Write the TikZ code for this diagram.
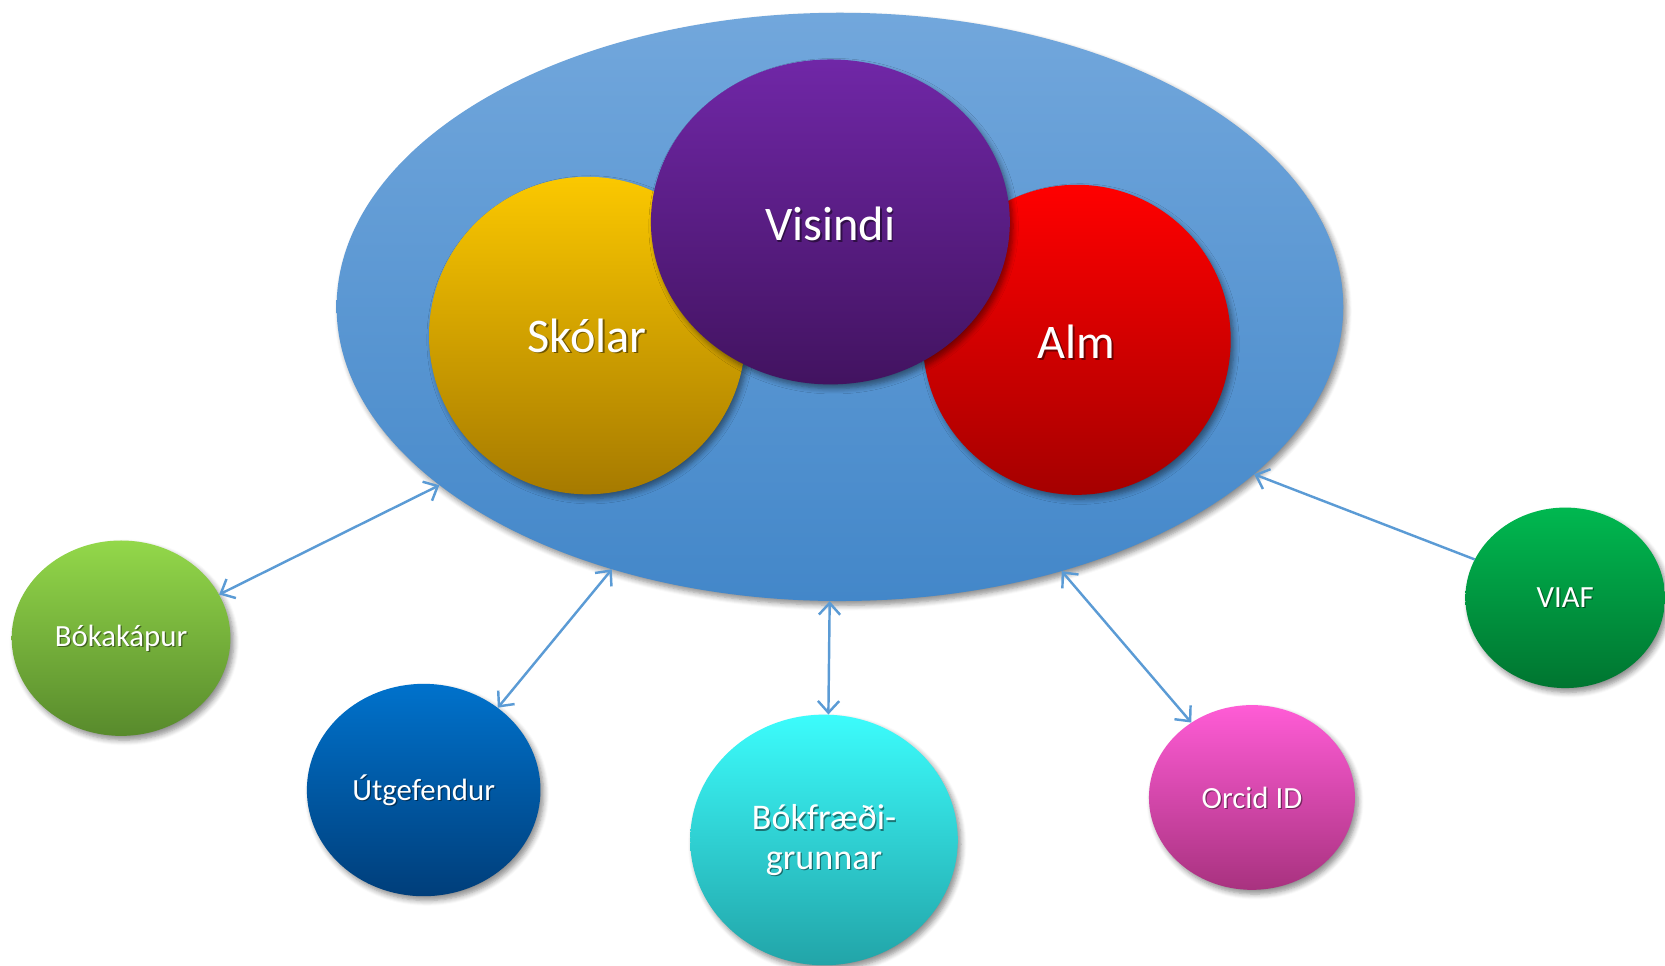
\documentclass[tikz,border=0pt]{standalone}
\usepackage{fontspec}
\setmainfont{Carlito}
\usetikzlibrary{shapes.geometric,arrows.meta,shadows.blur}
\definecolor{bigtop}{HTML}{72A7DC}
\definecolor{bigbot}{HTML}{4387C9}
\definecolor{conn}{HTML}{5B9BD5}
\definecolor{skotop}{HTML}{FBC800}
\definecolor{skobot}{HTML}{A67A00}
\definecolor{almtop}{HTML}{FF0000}
\definecolor{almbot}{HTML}{A50000}
\definecolor{vistop}{HTML}{7027A7}
\definecolor{visbot}{HTML}{421360}
\definecolor{boktop}{HTML}{93D84A}
\definecolor{bokbot}{HTML}{588A2C}
\definecolor{utgtop}{HTML}{0072CC}
\definecolor{utgbot}{HTML}{003E7A}
\definecolor{bfgtop}{HTML}{3CFCFC}
\definecolor{bfgbot}{HTML}{22A4A8}
\definecolor{orctop}{HTML}{FF5CD6}
\definecolor{orcbot}{HTML}{A8327F}
\definecolor{viatop}{HTML}{00B850}
\definecolor{viabot}{HTML}{007530}
\tikzset{
  blob/.style={ellipse, inner sep=0pt, text=white, draw=none,
    blur shadow={shadow xshift=3pt, shadow yshift=-4pt, shadow blur radius=5pt, shadow blur steps=6, shadow opacity=45}},
  bigfont/.style={font=\fontsize{45.5}{52}\selectfont},
  smallfont/.style={font=\fontsize{29}{34}\selectfont, align=center},
  bfgfont/.style={font=\fontsize{34}{37}\selectfont, align=center},
  tshadow/.style={text=black, text opacity=0.45},
  link/.style={draw=conn, line width=2.3pt, {Straight Barb[length=11pt,width=20pt,line width=2.3pt]}-{Straight Barb[length=11pt,width=20pt,line width=2.3pt]}},
  linkone/.style={draw=conn, line width=2.3pt, -{Straight Barb[length=11pt,width=20pt,line width=2.3pt]}},
}
\begin{document}
\begin{tikzpicture}[x=1pt,y=-1pt]
\useasboundingbox (0,0) rectangle (1568,909.7);
% main ellipse
\node[blob, minimum width=948pt, minimum height=554pt, top color=bigtop, bottom color=bigbot] (big) at (791,289) {};
% inner circles
\node[blob, minimum width=298pt, minimum height=299pt, top color=skotop, bottom color=skobot] (sko) at (553,316) {};
\node[blob, minimum width=290pt, minimum height=292pt, top color=almtop, bottom color=almbot] (alm) at (1014,320) {};
\node[blob, minimum width=338pt, minimum height=306pt, top color=vistop, bottom color=visbot] (vis) at (782,209) {};
% outer circles
\node[blob, minimum width=206pt, minimum height=184pt, top color=boktop, bottom color=bokbot] (bok) at (114,601) {};
\node[blob, minimum width=220pt, minimum height=200pt, top color=utgtop, bottom color=utgbot] (utg) at (399,744) {};
\node[blob, minimum width=252pt, minimum height=236pt, top color=bfgtop, bottom color=bfgbot] (bfg) at (776,791) {};
\node[blob, minimum width=194pt, minimum height=174pt, top color=orctop, bottom color=orcbot] (orc) at (1179,751) {};
\node[blob, minimum width=188pt, minimum height=170pt, top color=viatop, bottom color=viabot] (via) at (1474,563) {};
% texts (shadow + white)
\node[bigfont, tshadow] (tskos) at ([shift={(1.5,1.5)}]sko.center) {Skólar};
\node[bigfont, text=white] (tsko) at (sko.center) {Skólar};
\node[bigfont, tshadow] (tvis) at ([shift={(1.5,3.5)}]vis.center) {Visindi};
\node[bigfont, text=white] (tvisw) at ([shift={(0,2)}]vis.center) {Visindi};
\node[bigfont, tshadow] (talms) at ([shift={(1.5,3.5)}]alm.center) {Alm};
\node[bigfont, text=white] (talm) at ([shift={(0,2)}]alm.center) {Alm};
\node[smallfont, tshadow] (tboks) at ([shift={(1.2,1.2)}]bok.center) {Bókakápur};
\node[smallfont, text=white] (tbok) at (bok.center) {Bókakápur};
\node[smallfont, tshadow] (tutgs) at ([shift={(1.2,1.2)}]utg.center) {Útgefendur};
\node[smallfont, text=white] (tutg) at (utg.center) {Útgefendur};
\node[bfgfont, tshadow] (tbfgs) at ([shift={(1.2,1.2)}]bfg.center) {Bókfræði-\\grunnar};
\node[bfgfont, text=white] (tbfg) at (bfg.center) {Bókfræði-\\grunnar};
\node[smallfont, tshadow] (torcs) at ([shift={(1.2,1.2)}]orc.center) {Orcid ID};
\node[smallfont, text=white] (torc) at (orc.center) {Orcid ID};
\node[smallfont, tshadow] (tvias) at ([shift={(1.2,1.2)}]via.center) {VIAF};
\node[smallfont, text=white] (tvia) at (via.center) {VIAF};
% connectors
\draw[link] (bok.24.6) -- (big.204.9);
\draw[link] (utg.48.8) -- (big.229.5);
\draw[link] (bfg.88.1) -- (big.268.4);
\draw[link] (orc.129.7) -- (big.310.3);
\draw[linkone] (via.157.9) -- (big.338.2);
\end{tikzpicture}
\end{document}
